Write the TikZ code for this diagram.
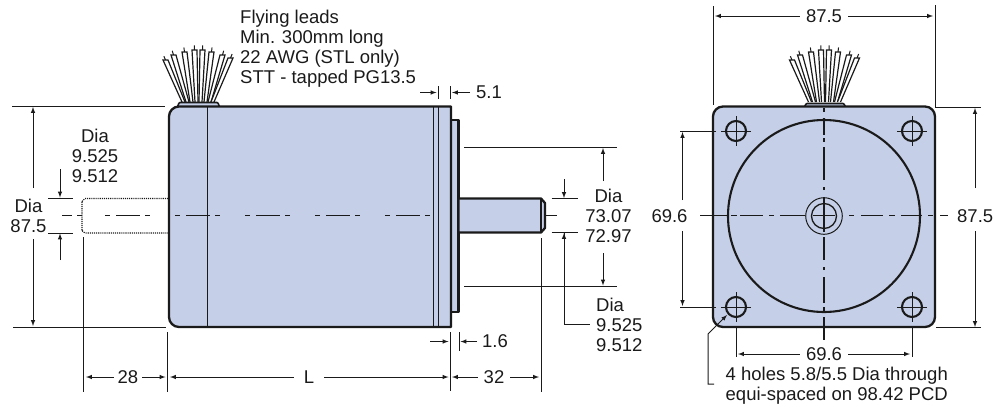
\documentclass[tikz,border=0pt]{standalone}
\usepackage{fontspec}
\setmainfont{Liberation Sans}
\usetikzlibrary{calc}

\definecolor{motorblue}{HTML}{C5CFE7}
\definecolor{inkline}{HTML}{1A1A1A}

\tikzset{
  body/.style={draw=inkline,line width=2.3pt,fill=motorblue,line join=round},
  thinline/.style={draw=inkline,line width=1pt},
  centreline/.style={draw=inkline,line width=1.1pt},
  dimline/.style={thinline,->,>=latex},
  hidden/.style={draw=inkline,line width=1.1pt,densely dotted},
  wire/.style={draw=inkline,line width=1.2pt,fill=white},
  dimtext/.style={text=inkline,inner sep=3pt,align=center,font=\fontsize{18.5}{20}\selectfont},
  dimtextleft/.style={dimtext,align=left,anchor=west,inner sep=0pt}
}

\begin{document}
\begin{tikzpicture}[x=1pt,y=-1pt]
  \useasboundingbox (0,0) rectangle (994,408);

  % wires and bosses
  \foreach \fan in {198.5,825}{
    \foreach \tx/\ty/\bx in {-33/60/-15,-25/55/-11,-14/52/-7,-4/50/-2,4/50/2,13/52/7,24/55/11,32/58/14}{
      \coordinate (wiretip) at ($(\fan+\bx,102)!1.09!(\fan+\tx,\ty)$);
      \draw[thinline] (\fan+\tx,\ty) -- (wiretip);
      \draw[wire] (\fan+\bx-1.5,102) -- (\fan+\tx-2.5,\ty) -- (\fan+\tx+2.5,\ty) -- (\fan+\bx+1.5,102);
    }
  }
  \draw[body,line width=1.6pt] (177,106.5) to[out=-60,in=180] (180,102.5) -- (217,102.5) to[out=0,in=-120] (220,106.5);
  \draw[body,line width=1.6pt] (804,106.5) to[out=-60,in=180] (807,103.5) -- (843,103.5) to[out=0,in=-120] (846,106.5);

  % side view
  \draw[body] (451,120) -- (458.5,120) -- (458.5,312) -- (451,312) -- cycle;
  \draw[body] (179,106.5) -- (451,106.5) -- (451,327) -- (179,327)
    arc[start angle=90,end angle=180,radius=10] -- (169,116.5)
    arc[start angle=180,end angle=270,radius=10] -- cycle;
  \draw[thinline] (207,106.5) -- (207,327);
  \draw[thinline] (433,106.5) -- (433,327);
  \draw[thinline] (438,106.5) -- (438,327);
  \draw[body] (458.5,198.5) -- (541,198.5) -- (545,203) -- (545,228) -- (541,232.5) -- (458.5,232.5) -- cycle;
  \draw[thinline,line width=1.4pt] (541,198.5) -- (541,232.5);
  \draw[hidden] (168,198.5) -- (85,198.5) to[out=180,in=-90] (82,201) -- (82,231) to[out=90,in=180] (85,233) -- (168,233);

  % side view centre line
  \foreach \ax/\bx in {62/72,77/82,545/557}
    \draw[centreline] (\ax,215.5) -- (\bx,215.5);
  \foreach \k in {0,...,4}{
    \draw[centreline] (105+70*\k,215.5) -- (110+70*\k,215.5);
    \draw[centreline] (116+70*\k,215.5) -- (140+70*\k,215.5);
    \draw[centreline] (145+70*\k,215.5) -- (150+70*\k,215.5);
  }

  % end view
  \draw[body] (723,106.5) -- (925,106.5) arc[start angle=-90,end angle=0,radius=10]
    -- (935,317) arc[start angle=0,end angle=90,radius=10]
    -- (723,327) arc[start angle=90,end angle=180,radius=10]
    -- (713,116.5) arc[start angle=180,end angle=270,radius=10] -- cycle;
  \draw[draw=inkline,line width=2.1pt] (824,216) circle[radius=96];
  \foreach \hx in {736,912}
    \foreach \hy in {131,307}{
      \draw[draw=inkline,line width=2.1pt] (\hx,\hy) circle[radius=10];
      \draw[thinline] (\hx-15,\hy) -- (\hx+15,\hy);
      \draw[thinline] (\hx,\hy-15) -- (\hx,\hy+15);
    }
  \draw[thinline] (824,216) circle[radius=18.3];
  \draw[thinline,line width=1.3pt] (824,216) circle[radius=12.5];
  \foreach \ax/\bx in {700/727,731/737,740/763,769/774,780/805,813/835,849/854,861/883,889/895,901/922,928/933,940/948}
    \draw[centreline] (\ax,215.5) -- (\bx,215.5);
  \foreach \ay/\by in {108/112,118/135,138/142,147/180,187/190,197/232,237/260,267/270,277/303,307/312,317/340}
    \draw[centreline] (824,\ay) -- (824,\by);

  % labels
  \node[dimtextleft] (leads) at (240,49) {Flying leads\\Min. 300mm long\\22 AWG (STL only)\\STT - tapped PG13.5};
  \node[dimtext] (shortdia) at (95,156) {Dia\\9.525\\9.512};
  \node[dimtext] (bodydia) at (28.5,215.5) {Dia\\87.5};
  \node[dimtext] (pilotdia) at (608.5,215.5) {Dia\\73.07\\72.97};
  \node[dimtextleft] (shaftdia) at (596,325) {Dia\\9.525\\9.512};
  \node[dimtextleft] (stepgap) at (476,92.5) {5.1};
  \node[dimtextleft] (flange) at (482,341.5) {1.6};
  \node[dimtext,inner sep=4pt] (lenrear) at (128,377) {28};
  \node[dimtext,inner sep=10pt] (lenbody) at (309,377) {L};
  \node[dimtext,inner sep=6pt] (lenshaft) at (494,377) {32};
  \node[dimtext,inner sep=6pt] (widthtop) at (824,16) {87.5};
  \node[dimtextleft] (heightright) at (957,216) {87.5};
  \node[dimtext] (holeh) at (669.5,216) {69.6};
  \node[dimtext,inner sep=6pt] (holew) at (824,354) {69.6};
  \node[dimtextleft] (holes) at (725.5,386) {4 holes 5.8/5.5 Dia through\\equi-spaced on 98.42 PCD};

  % extension lines, side view
  \draw[thinline] (12,106.5) -- (165,106.5);
  \draw[thinline] (13,327) -- (166,327);
  \draw[thinline] (48,198) -- (73,198);
  \draw[thinline] (48,233) -- (73,233);
  \draw[thinline] (83.5,237) -- (83.5,392);
  \draw[thinline] (167.5,332) -- (167.5,392);
  \draw[thinline] (450,332) -- (450,391);
  \draw[thinline] (459,332) -- (459,351);
  \draw[thinline] (541,238) -- (541,392);
  \draw[thinline] (438,86) -- (438,99);
  \draw[thinline] (450.5,86) -- (450.5,99);
  \draw[thinline] (464,147.5) -- (617,147.5);
  \draw[thinline] (464,286) -- (617,286);
  \draw[thinline] (551.5,198.5) -- (578,198.5);
  \draw[thinline] (551.5,232.5) -- (578,232.5);
  \draw[thinline] (564,233) -- (564,324) -- (590,324);

  % dimensions, side view
  \draw[dimline] (33,188) -- (33,107);
  \draw[dimline] (33,239) -- (33,326);
  \draw[dimline] (60,169) -- (60,197.5);
  \draw[dimline] (60,260) -- (60,233.5);
  \draw[dimline] (lenrear) -- (86,377);
  \draw[dimline] (lenrear) -- (165.5,377);
  \draw[dimline] (lenbody) -- (170,377);
  \draw[dimline] (lenbody) -- (448.5,377);
  \draw[dimline] (lenshaft) -- (452,377);
  \draw[dimline] (lenshaft) -- (539,377);
  \draw[dimline] (420,92.5) -- (436.5,92.5);
  \draw[dimline] (470,92.5) -- (452,92.5);
  \draw[dimline] (430,341.5) -- (448.5,341.5);
  \draw[dimline] (477,341.5) -- (460.5,341.5);
  \draw[dimline] (603,181) -- (603,148);
  \draw[dimline] (603,253) -- (603,285.5);
  \draw[dimline] (564,179) -- (564,198);
  \draw[dimline] (564,260) -- (564,233);

  % extension lines, end view
  \draw[thinline] (713,6) -- (713,105);
  \draw[thinline] (935,5) -- (935,107) -- (981,107);
  \draw[thinline] (936,327.5) -- (981,327.5);
  \draw[thinline] (680,131) -- (716,131);
  \draw[thinline] (680,307) -- (716,307);
  \draw[thinline] (736,327) -- (736,357);
  \draw[thinline] (912,327) -- (912,357);

  % dimensions, end view
  \draw[dimline] (widthtop) -- (715,16);
  \draw[dimline] (widthtop) -- (933,16);
  \draw[dimline] (holew) -- (738,354);
  \draw[dimline] (holew) -- (910,354);
  \draw[dimline] (975,188) -- (975,108);
  \draw[dimline] (975,231) -- (975,327);
  \draw[dimline] (682.5,200) -- (682.5,132);
  \draw[dimline] (682.5,231) -- (682.5,306);
  \draw[dimline] (714,384) -- (708,384) -- (708,334) -- (727,315);
\end{tikzpicture}
\end{document}
